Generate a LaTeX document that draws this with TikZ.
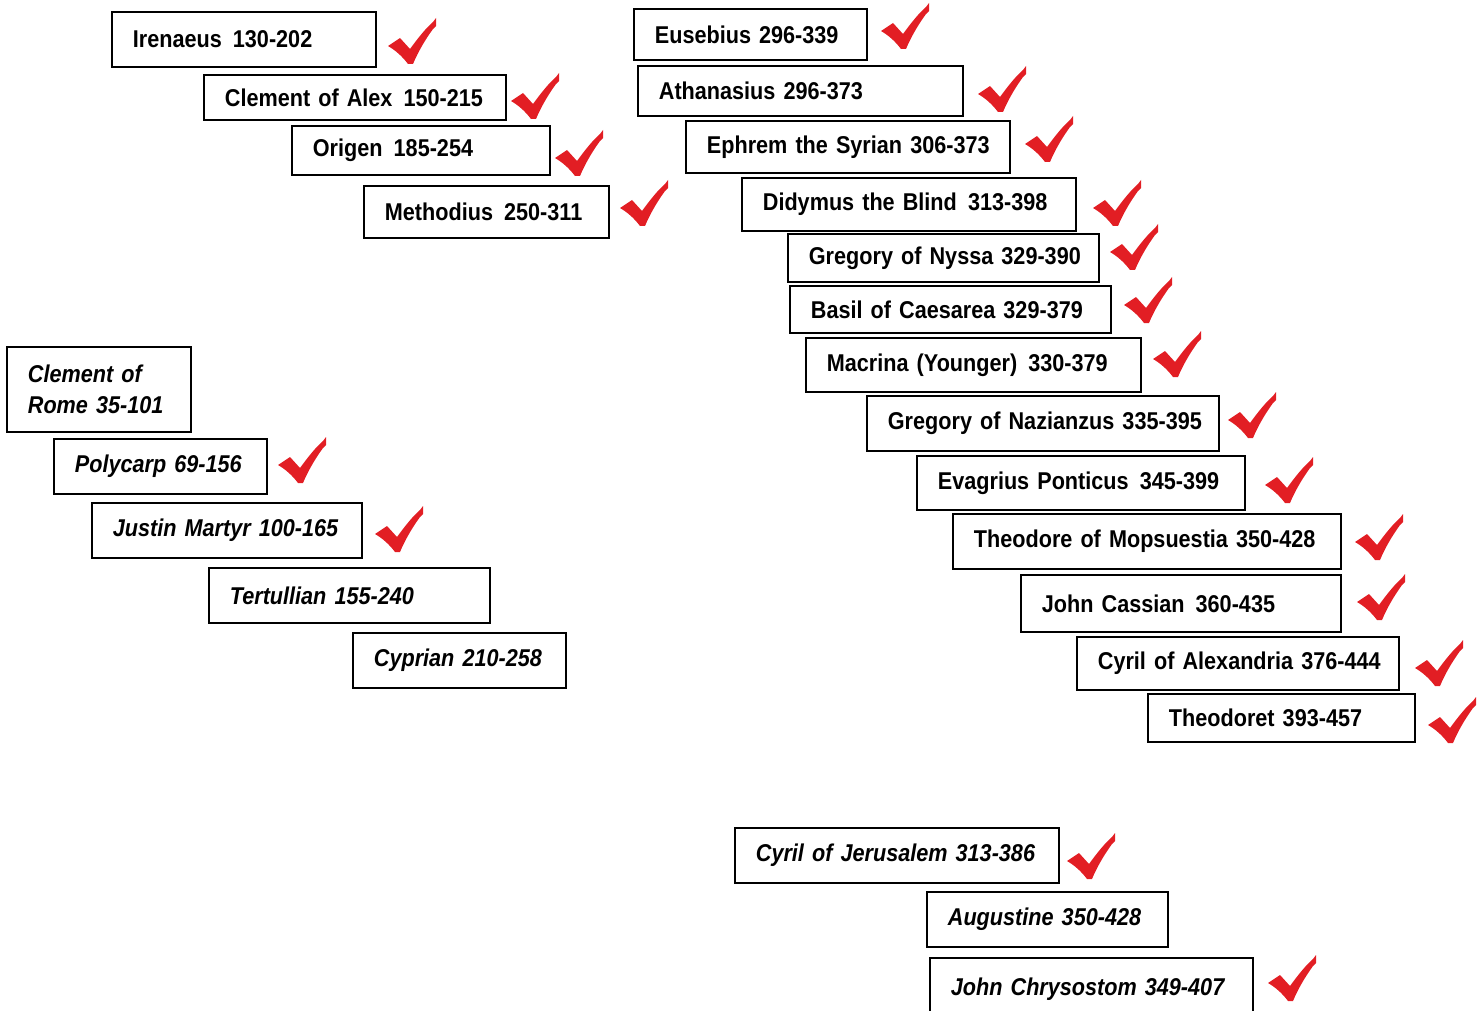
\documentclass[tikz,border=0pt]{standalone}
\usepackage{fontspec}
\setmainfont{Liberation Sans}[FakeStretch=0.89,WordSpace=0.85]
\usepackage{xcolor}
\usepackage{tikz}
\usetikzlibrary{calc,positioning}

\begin{document}
\begin{tikzpicture}[x=1pt,y=-1pt,
    father/.style={draw,line width=1.8pt,anchor=north west,inner ysep=0pt,inner xsep=21pt,
                   align=left,font=\fontsize{24.3}{31}\selectfont\bfseries},
    ital/.style={font=\fontsize{24.3}{31}\selectfont\bfseries\itshape},
    tick/.pic={\fill[tickred] (0,28) -- (12,20) -- (22,31) .. controls (30,20) and (38,10) .. (45,4)
                 -- (48,0) -- (48,8) -- (45,11) .. controls (37,22) and (30,34) .. (25,46)
                 -- (20,46) .. controls (14,38) and (7,32) .. cycle;}]
    \definecolor{tickred}{RGB}{226,30,36}
    \useasboundingbox (0,0) rectangle (1481,1011);
    % upright names
    \foreach \n/\x/\y/\w/\h/\t in {ire/111/11/264/55/{Irenaeus\ \hspace{3pt}130-202},
        clal/203/74/302/45/{Clement of Alex\ \hspace{3pt}150-215},
        ori/291/125/258/49/{Origen\ \hspace{3pt}185-254},
        met/363/185/245/52/{Methodius\ \hspace{3pt}250-311},
        eus/633/8/233/51/{Eusebius 296-339},
        ath/637/65/325/50/{Athanasius 296-373},
        eph/685/120/324/52/{Ephrem the Syrian 306-373},
        did/741/177/334/53/{Didymus the Blind\ \hspace{3pt}313-398},
        gny/787/233/311/48/{Gregory of Nyssa 329-390},
        bas/789/285/321/47/{Basil of Caesarea 329-379},
        mac/805/337/335/54/{Macrina (Younger)\ \hspace{3pt}330-379},
        gna/866/395/352/55/{Gregory of Nazianzus 335-395},
        eva/916/455/328/54/{Evagrius Ponticus\ \hspace{3pt}345-399},
        tmo/952/513/388/55/{Theodore of Mopsuestia 350-428},
        jca/1020/574/320/57/{John Cassian\ \hspace{3pt}360-435},
        cal/1076/636/322/53/{Cyril of Alexandria 376-444},
        thd/1147/693/267/48/{Theodoret 393-457}}
      \node[father,minimum width=\w,minimum height=\h,text width=\w-42] (\n) at (\x,\y) {\mbox{\t}};
    % italic names
    \node[father,ital,minimum width=184,minimum height=85,text width=142] (cro) at (6,346)
      {Clement of\\Rome 35-101};
    \foreach \n/\x/\y/\w/\h/\t in {pol/53/438/213/55/{Polycarp 69-156},
        jus/91/502/270/55/{Justin Martyr 100-165},
        ter/208/567/281/55/{Tertullian 155-240},
        cyp/352/632/213/55/{Cyprian 210-258},
        cje/734/827/324/55/{Cyril of Jerusalem 313-386},
        aug/926/891/241/55/{Augustine 350-428},
        jch/929/957/323/62/{John Chrysostom 349-407}}
      \node[father,ital,minimum width=\w,minimum height=\h,text width=\w-42] (\n) at (\x,\y) {\mbox{\t}};
    % check marks
    \foreach \x/\y in {388/18,511/73,555/130,620/180,881/3,978/66,1025/116,1093/180,
        1110/224,1124/277,1153/331,1228/392,1265/457,1355/514,1357/574,1415/640,
        1428/697,278/437,375/506,1067/833,1268/955}
      \pic at (\x,\y) {tick};
\end{tikzpicture}
\end{document}
